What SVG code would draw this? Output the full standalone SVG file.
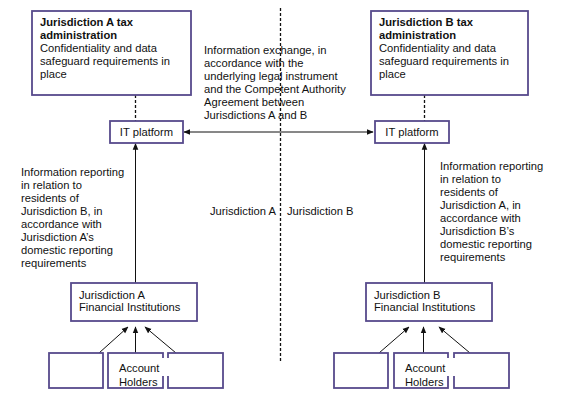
<svg xmlns="http://www.w3.org/2000/svg" width="579" height="400" viewBox="0 0 579 400">
<defs>
<style>
text{font-family:"Liberation Sans",Arial,sans-serif;font-size:11.2px;fill:#111}
.b{font-weight:bold}
.box{fill:#fff;stroke:#574a8c;stroke-width:1.8}
.dash{stroke:#111;stroke-width:1.3;stroke-dasharray:3 2;fill:none}
.ln{stroke:#111;stroke-width:1;fill:none}
</style>
<marker id="ah" viewBox="0 0 10 10" refX="9" refY="5" markerWidth="7" markerHeight="7" orient="auto-start-reverse" markerUnits="userSpaceOnUse">
<path d="M0,1 L10,5 L0,9 z" fill="#111"/>
</marker>
</defs>
<rect width="579" height="400" fill="#fff"/>
<g id="connectors">
<line class="dash" x1="280.5" y1="8" x2="280.5" y2="362"/>
<line class="dash" x1="135.5" y1="95" x2="135.5" y2="121"/>
<line class="dash" x1="424.5" y1="95" x2="424.5" y2="121"/>
<line class="ln" x1="184" y1="132" x2="373" y2="132" marker-start="url(#ah)" marker-end="url(#ah)"/>
<line class="ln" x1="135.5" y1="283" x2="135.5" y2="143.5" marker-end="url(#ah)"/>
<line class="ln" x1="424.5" y1="283" x2="424.5" y2="143.5" marker-end="url(#ah)"/>
<line class="ln" x1="99" y1="353" x2="128" y2="327" marker-end="url(#ah)"/>
<line class="ln" x1="135.5" y1="353" x2="135.5" y2="327" marker-end="url(#ah)"/>
<line class="ln" x1="176" y1="353" x2="145" y2="327" marker-end="url(#ah)"/>
<line class="ln" x1="379" y1="353" x2="409" y2="327" marker-end="url(#ah)"/>
<line class="ln" x1="423.5" y1="353" x2="423.5" y2="327" marker-end="url(#ah)"/>
<line class="ln" x1="470" y1="353" x2="439" y2="327" marker-end="url(#ah)"/>
</g>
<g id="taxA">
<rect class="box" x="32" y="11" width="159" height="84"/>
<text x="40" y="26" class="b">Jurisdiction A tax</text>
<text x="40" y="39" class="b">administration</text>
<text x="40" y="52">Confidentiality and data</text>
<text x="40" y="65">safeguard requirements in</text>
<text x="40" y="78">place</text>
</g>
<g id="taxB">
<rect class="box" x="371" y="11" width="157" height="84"/>
<text x="379" y="26" class="b">Jurisdiction B tax</text>
<text x="379" y="39" class="b">administration</text>
<text x="379" y="52">Confidentiality and data</text>
<text x="379" y="65">safeguard requirements in</text>
<text x="379" y="78">place</text>
</g>
<g id="exchange-label">
<text x="204" y="54">Information exchange, in</text>
<text x="204" y="67">accordance with the</text>
<text x="204" y="80">underlying legal instrument</text>
<text x="204" y="93">and the Competent Authority</text>
<text x="204" y="106">Agreement between</text>
<text x="204" y="119">Jurisdictions A and B</text>
</g>
<g id="itA">
<rect class="box" x="110" y="121" width="73" height="22"/>
<text x="146.5" y="136" text-anchor="middle">IT platform</text>
</g>
<g id="itB">
<rect class="box" x="375" y="121" width="74" height="22"/>
<text x="412" y="136" text-anchor="middle">IT platform</text>
</g>
<g id="reportA">
<text x="21" y="176">Information reporting</text>
<text x="21" y="189">in relation to</text>
<text x="21" y="202">residents of</text>
<text x="21" y="215">Jurisdiction B, in</text>
<text x="21" y="228">accordance with</text>
<text x="21" y="241">Jurisdiction A’s</text>
<text x="21" y="254">domestic reporting</text>
<text x="21" y="267">requirements</text>
</g>
<g id="reportB">
<text x="440" y="170">Information reporting</text>
<text x="440" y="183">in relation to</text>
<text x="440" y="196">residents of</text>
<text x="440" y="209">Jurisdiction A, in</text>
<text x="440" y="222">accordance with</text>
<text x="440" y="235">Jurisdiction B’s</text>
<text x="440" y="248">domestic reporting</text>
<text x="440" y="261">requirements</text>
</g>
<g id="juris-labels">
<text x="210" y="215">Jurisdiction A</text>
<text x="287" y="215">Jurisdiction B</text>
</g>
<g id="fiA">
<rect class="box" x="71" y="283" width="126" height="38"/>
<text x="79" y="299">Jurisdiction A</text>
<text x="79" y="311">Financial Institutions</text>
</g>
<g id="fiB">
<rect class="box" x="366" y="283" width="126" height="38"/>
<text x="374" y="299">Jurisdiction B</text>
<text x="374" y="311">Financial Institutions</text>
</g>
<g id="holdersA">
<rect class="box" x="49" y="353" width="54" height="35"/>
<rect class="box" x="108" y="353" width="55" height="35"/>
<rect class="box" x="168" y="353" width="55" height="35"/>
<rect x="160" y="358" width="11" height="18" fill="#fff"/>
<text x="119" y="372">Account</text>
<text x="119" y="386">Holders</text>
</g>
<g id="holdersB">
<rect class="box" x="334" y="353" width="54" height="35"/>
<rect class="box" x="394" y="353" width="54" height="35"/>
<rect class="box" x="454" y="353" width="55" height="35"/>
<rect x="445" y="358" width="12" height="18" fill="#fff"/>
<text x="405" y="372">Account</text>
<text x="405" y="386">Holders</text>
</g>
</svg>
